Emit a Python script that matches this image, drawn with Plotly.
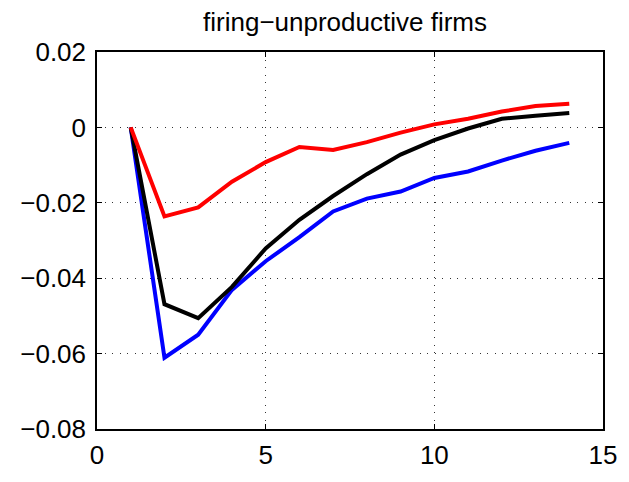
import plotly.graph_objects as go

periods = list(range(1, 15))
blue_vals = [0.0, -0.0611, -0.0550, -0.0431, -0.0355, -0.0291, -0.0223, -0.0189,
             -0.0170, -0.0134, -0.0117, -0.0088, -0.0062, -0.0041]
black_vals = [0.0, -0.0469, -0.0506, -0.0423, -0.0321, -0.0245, -0.0182, -0.0124,
              -0.0072, -0.0034, -0.0003, 0.0023, 0.0031, 0.0038]
red_vals = [0.0, -0.0236, -0.0212, -0.0144, -0.0092, -0.0052, -0.0060, -0.0039,
            -0.0014, 0.0008, 0.0023, 0.0042, 0.0057, 0.0063]

x_ticks = [0, 5, 10, 15]
x_ticklabels = ["0", "5", "10", "15"]
y_ticks = [0.02, 0, -0.02, -0.04, -0.06, -0.08]
y_ticklabels = ["0.02", "0", "\u22120.02", "\u22120.04", "\u22120.06", "\u22120.08"]
title_text = "firing\u2212unproductive firms"

FONT = "Liberation Sans, Arial, Helvetica, sans-serif"

fig = go.Figure()
for vals, col in [(blue_vals, "#0000FF"), (black_vals, "#000000"), (red_vals, "#FF0000")]:
    fig.add_trace(go.Scatter(x=periods, y=vals, mode="lines",
                             line=dict(color=col, width=4), showlegend=False))

axis_common = dict(
    showline=True, linecolor="black", linewidth=1.5, mirror="allticks",
    ticks="inside", ticklen=5, tickcolor="black", tickwidth=1,
    showgrid=True, gridcolor="#333333", gridwidth=1, griddash="1px,6.5px",
    zeroline=False, tickfont=dict(family=FONT, size=26, color="black"),
)

# the page body adds an 8px margin, so the figure is 8px smaller and margins shifted
fig.update_layout(
    width=621, height=474,
    margin=dict(l=79, r=26, t=44, b=38),
    paper_bgcolor="white", plot_bgcolor="white",
    title=dict(text=title_text, x=0.5427, xanchor="center", y=0.970, yanchor="middle",
               font=dict(family=FONT, size=26, color="black")),
    xaxis=dict(range=[0, 15], tickvals=x_ticks, ticktext=x_ticklabels, ticklabelstandoff=2, **axis_common),
    yaxis=dict(range=[-0.08, 0.02], tickvals=y_ticks, ticktext=y_ticklabels, ticklabelstandoff=4, **axis_common),
)

fig.write_html("out.html")
